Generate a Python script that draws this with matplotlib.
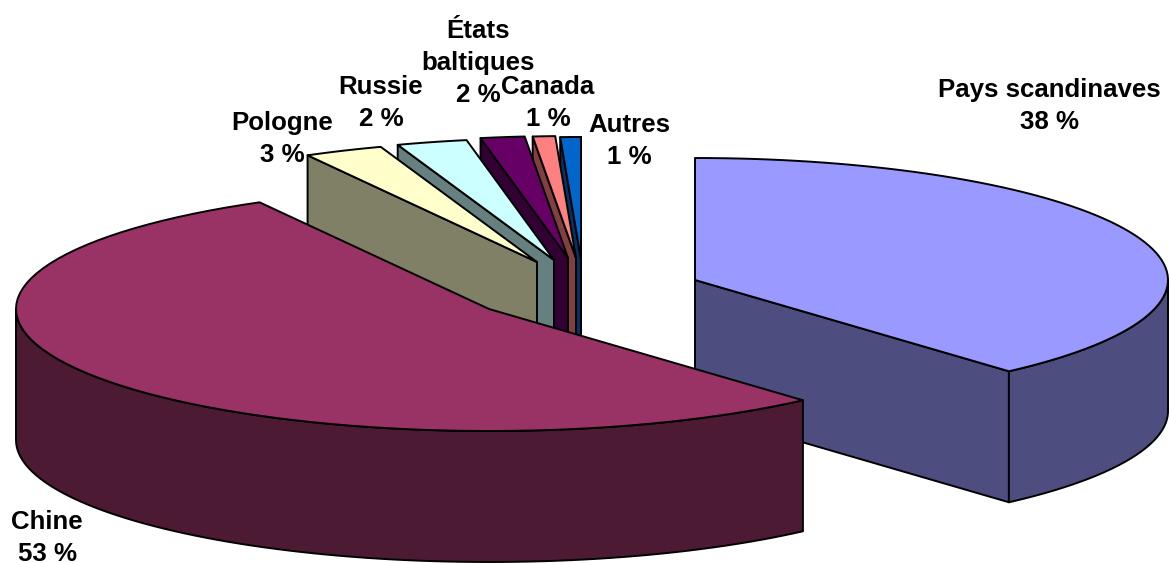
import numpy as np
import matplotlib
matplotlib.use('Agg')
import matplotlib.pyplot as plt
from matplotlib.patches import Polygon

plt.rcParams['font.family'] = ['Liberation Sans', 'DejaVu Sans']

# parts, in percent, clockwise from twelve o'clock
names = ["Pays scandinaves", "Chine", "Pologne", "Russie", "États\nbaltiques", "Canada", "Autres"]
shares = [38.45, 53.49, 2.7, 2.4, 1.5, 0.76, 0.7]

top_colors = ["#9999FF", "#993366", "#FFFFCC", "#CCFFFF", "#660066", "#FF8080", "#0066CC"]
side_colors = ["#4D4D80", "#4D1A33", "#808066", "#668080", "#330033", "#804040", "#003366"]

# where the tip of each exploded slice sits, in pixels
tips = [(695, 280), (489, 309), (537, 262), (554, 260), (568, 258), (576, 258), (581, 259)]
label_pos = [(1049, 106), (47, 538), (282, 139), (381, 103), (478, 63), (548, 103), (629, 141)]

RX, RY = 473, 122
DEPTH = 131
EDGE = dict(edgecolor="black", linewidth=1.4, joinstyle="round")


def rim(tip, a0, a1, n=80):
    a = np.radians(np.linspace(a0, a1, n))
    return np.column_stack([tip[0] + RX * np.sin(a), tip[1] - RY * np.cos(a)])


def draw_slice(ax, tip, a0, a1, top, side):
    tip = np.array(tip, dtype=float)
    drop = np.array([0, DEPTH])
    a_start, a_end = np.radians(a0), np.radians(a1)

    # cut faces, only those turned towards the viewer
    if np.sin(a_start) < 0:
        p = rim(tip, a0, a0, 1)[0]
        ax.add_patch(Polygon([tip, p, p + drop, tip + drop], facecolor=side, **EDGE))
    if np.sin(a_end) > 0:
        p = rim(tip, a1, a1, 1)[0]
        ax.add_patch(Polygon([tip, p, p + drop, tip + drop], facecolor=side, **EDGE))

    # outer wall on the front half of the disc
    lo, hi = max(a0, 90), min(a1, 270)
    if lo < hi:
        arc = rim(tip, lo, hi)
        ax.add_patch(Polygon(np.vstack([arc, arc[::-1] + drop]), facecolor=side, **EDGE))

    ax.add_patch(Polygon(np.vstack([[tip], rim(tip, a0, a1)]), facecolor=top, **EDGE))


def main():
    fig = plt.figure(figsize=(11.69, 5.63), dpi=100)
    ax = fig.add_axes([0, 0, 1, 1])
    ax.set_xlim(0, 1169)
    ax.set_ylim(563, 0)
    ax.axis("off")

    edges = np.concatenate([[0], np.cumsum(shares)]) / sum(shares) * 360

    # back slices first, right to left, then the two big ones
    order = [6, 5, 4, 3, 2, 0, 1]
    for i in order:
        draw_slice(ax, tips[i], edges[i], edges[i + 1], top_colors[i], side_colors[i])

    for name, share, (x, y) in zip(names, shares, label_pos):
        ax.text(x, y, f"{name}\n{round(share)} %", ha="center", va="center",
                fontsize=18.6, fontweight="bold", linespacing=1.42, color="black")

    fig.savefig("out.png", dpi=100)


if __name__ == "__main__":
    main()
